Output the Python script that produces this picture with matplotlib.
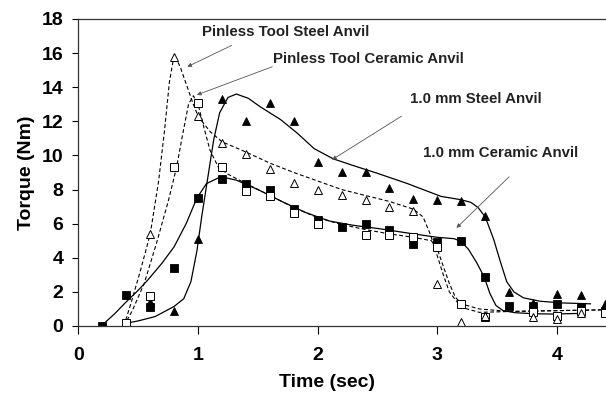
import matplotlib
matplotlib.use("Agg")
import matplotlib.pyplot as plt

plt.rcParams["font.family"] = ["Liberation Sans", "DejaVu Sans"]
plt.rcParams["font.weight"] = "bold"

# measured points
pin_steel_t = [0.6, 0.8, 1.0, 1.2, 1.4, 1.6, 1.8, 2.0, 2.2, 2.4, 2.6, 2.8,
               3.0, 3.2, 3.4, 3.8, 4.0, 4.2]
pin_steel_y = [5.4, 15.8, 12.3, 10.7, 10.1, 9.2, 8.4, 7.95, 7.7, 7.4, 7.0, 6.75,
               2.45, 0.25, 0.6, 0.55, 0.4, 0.75]

pin_cer_t = [0.4, 0.6, 0.8, 1.0, 1.2, 1.4, 1.6, 1.8, 2.0, 2.4, 2.6, 2.8,
             3.0, 3.2, 3.4, 3.8, 4.0, 4.2, 4.4]
pin_cer_y = [0.15, 1.75, 9.35, 13.05, 9.35, 7.9, 7.6, 6.65, 6.0, 5.35, 5.35, 5.2,
             4.65, 1.3, 0.5, 0.8, 0.6, 0.9, 0.75]

mm_steel_t = [0.4, 0.6, 0.8, 1.0, 1.2, 1.4, 1.6, 1.8, 2.0, 2.2, 2.4, 2.6, 2.8,
              3.0, 3.2, 3.4, 3.6, 3.8, 4.0, 4.2, 4.4]
mm_steel_y = [0.05, 1.4, 0.9, 5.1, 13.3, 12.0, 13.1, 12.0, 9.6, 9.05, 9.0, 8.1,
              7.45, 7.4, 7.35, 6.45, 2.0, 1.35, 1.9, 1.8, 1.3]

mm_cer_t = [0.2, 0.4, 0.6, 0.8, 1.0, 1.2, 1.4, 1.6, 1.8, 2.0, 2.2, 2.4, 2.6,
            2.8, 3.0, 3.2, 3.4, 3.6, 3.8, 4.0, 4.2, 4.4]
mm_cer_y = [0.0, 1.8, 1.1, 3.4, 7.5, 8.6, 8.3, 7.95, 6.85, 6.2, 5.8, 6.0, 5.6,
            4.8, 4.95, 5.0, 2.85, 1.15, 1.2, 1.3, 1.1, 0.9]

# fitted curves
fit_pin_steel_t = [0.38, 0.45, 0.52, 0.6, 0.67, 0.72, 0.76, 0.8, 0.85, 0.9, 0.96,
                   1.0, 1.1, 1.2, 1.4, 1.6, 1.8, 2.0, 2.2, 2.4, 2.6, 2.8, 2.88,
                   2.94, 3.0, 3.05, 3.1, 3.2, 3.35, 3.6, 4.0, 4.41]
fit_pin_steel_y = [0.0, 1.6, 3.3, 5.4, 8.5, 11.5, 14.3, 15.9, 15.2, 14.2, 13.0,
                   12.3, 11.4, 10.8, 10.2, 9.55, 9.0, 8.5, 8.0, 7.65, 7.3, 6.85,
                   6.4, 5.4, 4.1, 3.0, 2.0, 1.1, 0.8, 0.85, 0.9, 0.95]

fit_pin_cer_t = [0.38, 0.45, 0.55, 0.65, 0.75, 0.82, 0.87, 0.92, 0.96, 1.0, 1.05,
                 1.1, 1.17, 1.25, 1.4, 1.6, 1.8, 2.0, 2.2, 2.4, 2.6, 2.8, 2.95,
                 3.0, 3.05, 3.1, 3.15, 3.2, 3.35, 3.6, 4.0, 4.41]
fit_pin_cer_y = [0.0, 0.9, 2.5, 4.8, 7.3, 9.3, 11.2, 13.0, 13.5, 13.0, 11.6,
                 10.3, 9.3, 8.9, 8.35, 7.65, 6.95, 6.35, 5.95, 5.65, 5.4, 5.2,
                 5.0, 4.5, 3.5, 2.5, 1.7, 1.3, 1.0, 0.85, 0.9, 0.95]

fit_mm_steel_t = [0.39, 0.5, 0.64, 0.8, 0.88, 0.94, 0.99, 1.03, 1.07, 1.13, 1.18,
                  1.25, 1.32, 1.42, 1.52, 1.69, 1.83, 1.97, 2.13, 2.3, 2.5, 2.75,
                  3.03, 3.2, 3.28, 3.34, 3.4, 3.47, 3.53, 3.58, 3.64, 3.72,
                  3.86, 4.05, 4.28]
fit_mm_steel_y = [0.15, 0.3, 0.55, 1.15, 1.6, 2.6, 4.4, 6.4, 8.2, 10.9, 12.5,
                  13.4, 13.6, 13.35, 12.85, 12.1, 11.3, 10.4, 9.8, 9.4, 8.95,
                  8.35, 7.6, 7.4, 7.25, 6.95, 6.4, 5.1, 3.7, 2.6, 2.0, 1.65,
                  1.45, 1.35, 1.3]

fit_mm_cer_t = [0.19, 0.3, 0.39, 0.5, 0.58, 0.7, 0.8, 0.9, 0.99, 1.07, 1.19,
                1.32, 1.5, 1.7, 1.9, 2.1, 2.3, 2.52, 2.8, 3.0, 3.14, 3.2, 3.26,
                3.33, 3.39, 3.44, 3.49, 3.55, 3.65, 3.8, 3.97, 4.2]
fit_mm_cer_y = [0.0, 0.7, 1.35, 2.1, 2.7, 3.7, 4.65, 6.0, 7.5, 8.35, 8.75,
                8.55, 8.0, 7.3, 6.65, 6.15, 5.9, 5.7, 5.4, 5.2, 5.12, 4.95, 4.5,
                3.7, 2.9, 1.9, 1.2, 0.9, 0.78, 0.72, 0.7, 0.74]

labels = ["Pinless Tool Steel Anvil", "Pinless Tool Ceramic Anvil",
          "1.0 mm Steel Anvil", "1.0 mm Ceramic Anvil"]
label_pos = [(1.03, 17.25), (1.63, 15.64), (2.77, 13.3), (2.88, 10.13)]
arrow_from = [(1.28, 16.45), (1.62, 15.2), (2.70, 12.3), (3.60, 8.75)]
arrow_to = [(0.91, 15.2), (0.99, 13.55), (2.12, 9.75), (3.16, 5.75)]

fig = plt.figure(figsize=(6.06, 3.94), dpi=100)
ax = fig.add_axes([0.1295, 0.1726, 0.8705, 0.7792])

dash = (0, (3.5, 2.2))
ax.plot(fit_pin_steel_t, fit_pin_steel_y, color="black", lw=0.8, ls=dash)
ax.plot(fit_pin_cer_t, fit_pin_cer_y, color="black", lw=0.8, ls=dash)
ax.plot(fit_mm_steel_t, fit_mm_steel_y, color="black", lw=0.9)
ax.plot(fit_mm_cer_t, fit_mm_cer_y, color="black", lw=0.9)

ax.plot(mm_cer_t, mm_cer_y, "s", ms=5.5, mfc="black", mec="black", mew=0.6)
ax.plot(mm_steel_t, mm_steel_y, "^", ms=6, mfc="black", mec="black", mew=0.6)
ax.plot(pin_cer_t, pin_cer_y, "s", ms=5.5, mfc="white", mec="black", mew=0.7)
ax.plot(pin_steel_t, pin_steel_y, "^", ms=6, mfc="white", mec="black", mew=0.7)

for text, pos, a, b in zip(labels, label_pos, arrow_from, arrow_to):
    ax.text(pos[0], pos[1], text, fontsize=10.8, fontweight="bold",
            color="#222222", va="center", ha="left")
    ax.annotate("", xy=b, xytext=a,
                arrowprops=dict(arrowstyle="-|>", lw=0.6, color="#555555",
                                mutation_scale=6, shrinkA=0, shrinkB=0))

ax.set_xlim(0, 4.41)
ax.set_ylim(0, 18)
ax.set_xticks([0, 1, 2, 3, 4])
ax.set_yticks(range(0, 19, 2))
ax.tick_params(axis="x", direction="out", length=6, width=0.8, pad=9,
               labelsize=14)
ax.tick_params(axis="y", direction="out", length=4, width=0.8, pad=7,
               labelsize=14)
for lab in ax.get_xticklabels() + ax.get_yticklabels():
    lab.set_fontweight("bold")

ax.spines["right"].set_visible(False)
for s in ["left", "bottom", "top"]:
    ax.spines[s].set_linewidth(0.9)
    ax.spines[s].set_color("#333333")

ax.set_xlabel("Time (sec)", fontsize=14, fontweight="bold", labelpad=1)
ax.xaxis.set_label_coords(0.471, -0.155)
ax.set_ylabel("Torque (Nm)", fontsize=14, fontweight="bold", labelpad=5)

fig.savefig("out.png", dpi=100)
